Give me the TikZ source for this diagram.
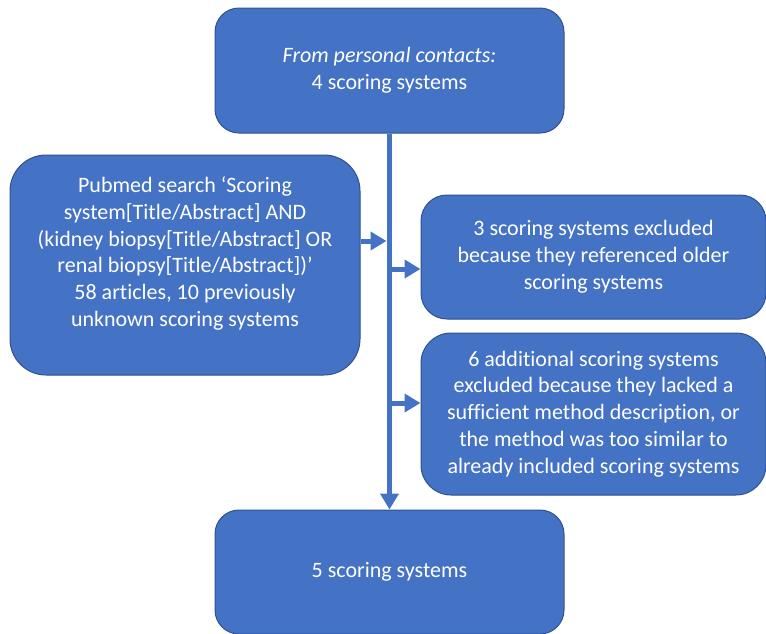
\documentclass[tikz,border=0pt]{standalone}
\usepackage{fontspec}
\setmainfont{Carlito}[Ligatures=NoCommon]
\usetikzlibrary{arrows.meta, positioning, calc}
\definecolor{boxblue}{HTML}{4472C4}
\definecolor{boxedge}{HTML}{2F528F}

\begin{document}
\begin{tikzpicture}[x=1pt, y=-1pt,
        stagebox/.style={draw=boxedge, line width=1pt, fill=boxblue, text=white, align=center, inner sep=0pt, font=\fontsize{22}{26.8}\selectfont},
        flow/.style={draw=boxblue, line width=5pt, -{Triangle[length=16pt, width=18pt]}}]
        \useasboundingbox (0,0) rectangle (766,633);

        % Define the stage boxes
        \node[stagebox, minimum width=349pt, minimum height=125pt, rounded corners=24pt] (contacts) at (389.5,70.5) {\textit{From personal contacts:}\\4 scoring systems};
        \node[stagebox, minimum width=350pt, minimum height=220pt, rounded corners=36pt] (pubmed) at (185,265) {Pubmed search ‘Scoring\\system[Title/Abstract] AND\\(kidney biopsy[Title/Abstract] OR\\renal biopsy[Title/Abstract])’\\58 articles, 10 previously\\unknown scoring systems\\\mbox{}};
        \node[stagebox, minimum width=345pt, minimum height=124pt, rounded corners=26pt] (older) at (593.5,257) {3 scoring systems excluded\\because they referenced older\\scoring systems};
        \node[stagebox, minimum width=345pt, minimum height=162pt, rounded corners=30pt] (similar) at (593.5,414) {6 additional scoring systems\\excluded because they lacked a\\sufficient method description, or\\the method was too similar to\\already included scoring systems};
        \node[stagebox, minimum width=349pt, minimum height=124pt, rounded corners=24pt, below=376pt of contacts] (final) {5 scoring systems};

        % Define junctions on the main line
        \coordinate (join) at (386.5,241);
        \coordinate (out1) at (389,269);
        \coordinate (out2) at (389,403);

        % Draw the flow arrows
        \draw[flow] (contacts.south) -- (final.north); % main line
        \draw[flow] (pubmed.east |- join) -- (join);
        \draw[flow] (out1) -- (out1 -| older.west);
        \draw[flow] (out2) -- (out2 -| similar.west);
    \end{tikzpicture}
\end{document}
